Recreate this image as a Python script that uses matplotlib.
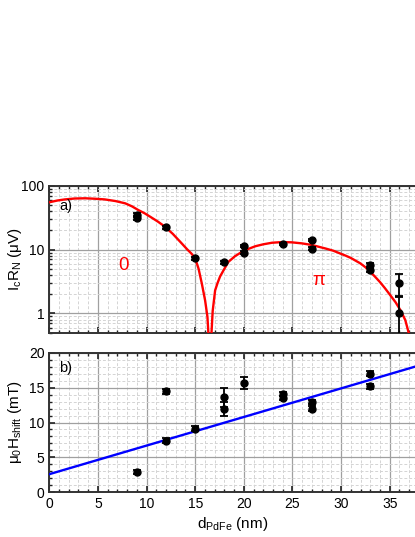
import matplotlib
matplotlib.use("Agg")
import matplotlib.pyplot as plt
from matplotlib.ticker import MultipleLocator, LogLocator, NullFormatter, FixedLocator

plt.rcParams['font.family'] = ['Liberation Sans', 'DejaVu Sans']
plt.rcParams['mathtext.fontset'] = 'custom'
plt.rcParams['mathtext.rm'] = 'Liberation Sans'
plt.rcParams['mathtext.it'] = 'Liberation Sans'

# ---- panel a data: IcRN (uV) ----
a_d = [9, 9, 12, 15, 18, 20, 20, 24, 27, 27, 33, 33, 36, 36]
a_v = [35, 31, 22.3, 7.3, 6.3, 11.4, 8.9, 12.2, 14.1, 10.4, 5.7, 4.8, 3.0, 1.0]
a_err_lo = [2.0, 1.5, 1.0, 0.4, 0.4, 0.5, 0.5, 0.5, 0.6, 0.5, 0.4, 0.4, 1.1, 0.99]
a_err_hi = [2.0, 1.5, 1.0, 0.4, 0.4, 0.5, 0.5, 0.5, 0.6, 0.5, 0.4, 0.4, 1.1, 0.8]

# fit curve
fit_d = [0, 0.8, 1.6, 2.6, 3.7, 4.7, 5.7, 6.8, 7.8, 8.5, 9.15, 9.8, 10.4, 11.15,
         11.9, 12.7, 13.45, 14.2, 14.6, 15.0, 15.35, 15.68, 16.02, 16.26, 16.45,
         16.53, 16.62, 16.8, 17.05, 17.3, 17.56, 18.0, 18.4, 19.1, 19.8, 20.5,
         21.2, 22.0, 22.9, 23.9, 24.9, 26.0, 27.0, 28.4, 29.2, 29.9, 30.5, 31.0,
         31.97, 32.5, 33.0, 33.5, 34.0, 34.5, 35.05, 35.6, 36.1, 36.6, 36.95,
         37.15, 37.22]
fit_v = [55, 58.5, 61, 63, 63.5, 62.5, 61, 57.5, 53, 47.5, 41.6, 37, 32.5, 27.5,
         22.8, 17.6, 13.3, 10.0, 8.7, 7.3, 5.0, 2.95, 1.6, 0.885, 0.28,
         0.01, 0.35, 1.1, 2.3, 3.0, 3.8, 5.0, 6.4, 7.9, 9.2, 10.3,
         11.3, 12.1, 12.8, 13.1, 13.0, 12.5, 11.8, 10.4, 9.6, 8.7, 8.0, 7.4,
         6.1, 5.3, 4.5, 3.75, 3.1, 2.5, 1.94, 1.5, 1.13, 0.79, 0.5,
         0.2, 0.01]

# ---- panel b data: mu0 Hshift (mT) ----
b_d = [9, 12, 12, 15, 18, 18, 20, 24, 24, 27, 27, 33, 33]
b_v = [2.9, 14.5, 7.4, 9.1, 13.6, 11.9, 15.7, 14.1, 13.5, 12.9, 12.0, 17.0, 15.2]
b_err = [0.3, 0.35, 0.35, 0.35, 1.35, 1.0, 0.85, 0.3, 0.3, 0.3, 0.3, 0.35, 0.35]

# linear fit line
lin_d = [0, 37.6]
lin_v = [2.6, 18.0]

fig = plt.figure(figsize=(4.15, 5.37), dpi=100)
left = 0.1188
width = 1.0 - left
ax_a = fig.add_axes([left, 0.3804, width, 0.2738])
ax_b = fig.add_axes([left, 0.0832, width, 0.2600])

def style(ax):
    ax.set_xlim(0, 37.6)
    ax.xaxis.set_major_locator(MultipleLocator(5))
    ax.xaxis.set_minor_locator(MultipleLocator(1))
    ax.grid(which='major', color='#a0a0a0', lw=0.9, ls='-')
    ax.grid(which='minor', color='#d4d4d4', lw=0.7, ls=(0, (3, 2)))
    ax.set_axisbelow(True)
    ax.tick_params(which='both', direction='in', top=True, right=False,
                   labelsize=10, colors='#222222', labelcolor='black')
    ax.tick_params(which='major', length=4, width=1.2)
    ax.tick_params(which='minor', length=2.5, width=1.0)
    for s in ['left', 'bottom', 'top']:
        ax.spines[s].set_linewidth(1.4)
        ax.spines[s].set_color('#333333')
    ax.spines['right'].set_visible(False)

style(ax_a)
ax_a.set_yscale('log')
ax_a.set_ylim(0.5, 100)
ax_a.yaxis.set_major_locator(FixedLocator([1, 10, 100]))
ax_a.yaxis.set_minor_locator(LogLocator(base=10, subs=range(2, 10)))
ax_a.yaxis.set_minor_formatter(NullFormatter())
ax_a.set_yticklabels(['1', '10', '100'])
ax_a.tick_params(axis='x', labelbottom=False)

ax_a.plot(fit_d, fit_v, color='#ff0000', lw=1.7, zorder=3)
ax_a.errorbar(a_d, a_v, yerr=[a_err_lo, a_err_hi], fmt='o', color='black',
              ms=5, capsize=3, elinewidth=1.3, capthick=1.3, zorder=4)
ax_a.set_ylabel(r'I$_{\rm c}$R$_{\rm N}$ ($\mu$V)', fontsize=11)
ax_a.yaxis.set_label_coords(-0.07, 0.5)
ax_a.text(0.027, 0.862, 'a)', transform=ax_a.transAxes, fontsize=10.5,
          va='center', ha='left')
ax_a.text(7.6, 5.7, '0', color='#ff0000', fontsize=13.5, ha='center', va='center')
ax_a.text(27.75, 3.3, r'$\pi$', color='#ff0000', fontsize=13.5, ha='center', va='center')

style(ax_b)
ax_b.set_ylim(0, 20)
ax_b.yaxis.set_major_locator(MultipleLocator(5))
ax_b.yaxis.set_minor_locator(MultipleLocator(1))
ax_b.plot(lin_d, lin_v, color='#0000ff', lw=1.7, zorder=3)
ax_b.errorbar(b_d, b_v, yerr=b_err, fmt='o', color='black', ms=5, capsize=3,
              elinewidth=1.3, capthick=1.3, zorder=4)
ax_b.set_ylabel(r'$\mu_{\rm 0}$H$_{\rm shift}$ (mT)', fontsize=11)
ax_b.yaxis.set_label_coords(-0.07, 0.5)
ax_b.set_xlabel(r'd$_{\rm PdFe}$ (nm)', fontsize=11, labelpad=3)
ax_b.text(0.027, 0.888, 'b)', transform=ax_b.transAxes, fontsize=10.5,
          va='center', ha='left')

fig.savefig('out.png', dpi=100)
